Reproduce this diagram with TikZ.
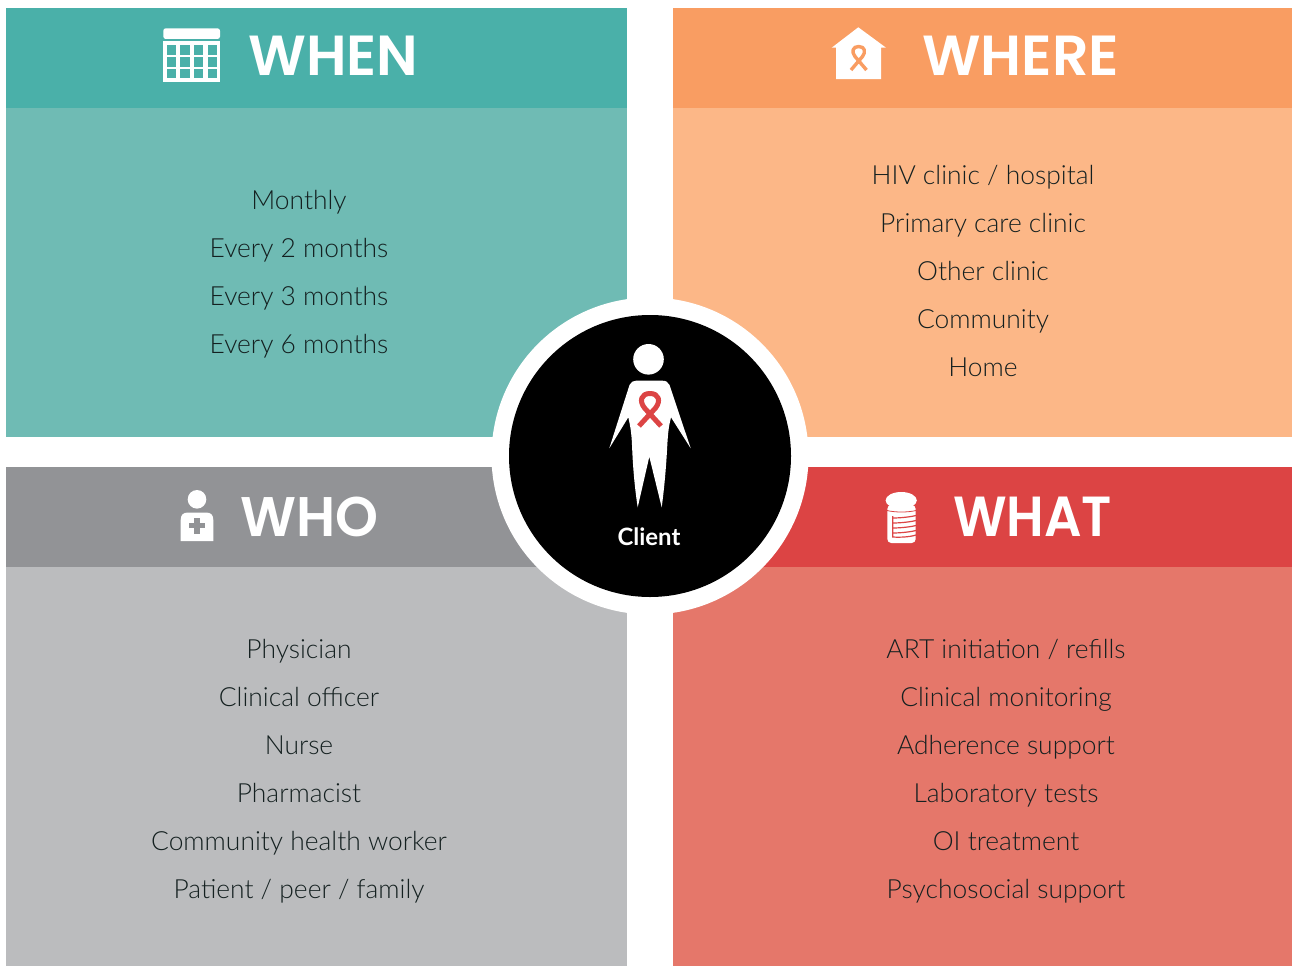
\documentclass[tikz,border=0pt]{standalone}
\usepackage{fontspec}
\usepackage{graphicx}
\setmainfont{Lato Light}
\newfontfamily\headfont{Poppins SemiBold}
\newfontfamily\clientfont{Lato Bold}
\definecolor{tealD}{HTML}{4AB0A9}
\definecolor{tealL}{HTML}{6FBBB4}
\definecolor{orangeD}{HTML}{F99D62}
\definecolor{orangeL}{HTML}{FCB787}
\definecolor{grayD}{HTML}{929396}
\definecolor{grayL}{HTML}{BBBCBE}
\definecolor{redD}{HTML}{DC4444}
\definecolor{redL}{HTML}{E5776A}
\definecolor{ink}{HTML}{142020}
\tikzset{
  item/.style={anchor=base,inner sep=0pt,text=ink,font=\fontsize{26.4}{30}\selectfont},
  head/.style={anchor=base west,inner sep=0pt,text=white,font=\headfont\fontsize{55}{60}\selectfont},
  ribbonline/.style={line width=#1,line cap=butt,line join=round},
}
\begin{document}
\begin{tikzpicture}[x=1pt,y=-1pt]
\useasboundingbox (0,0) rectangle (1292,966);
\fill[white] (0,0) rectangle (1292,966);
% panels
\fill[tealL] (6,108) rectangle (627,437);
\fill[tealD] (6,8) rectangle (627,108);
\fill[orangeL] (673,108) rectangle (1292,437);
\fill[orangeD] (673,8) rectangle (1292,108);
\fill[grayL] (6,567) rectangle (627,966);
\fill[grayD] (6,467) rectangle (627,567);
\fill[redL] (673,567) rectangle (1292,966);
\fill[redD] (673,467) rectangle (1292,567);
% centre disc
\fill[white] (650,456) circle[radius=158.5];
\fill[black] (650,456) circle[radius=141];
% person
\fill[white] (648.5,359.3) circle[radius=15.3];
\fill[white] (636,380.7) -- (662.5,380.7) .. controls (666,380.7) and (668,382) .. (669.5,385)
  -- (690.7,448.3) -- (671,417.3) .. controls (669,425) and (668,432) .. (667.3,445)
  .. controls (666,470) and (664,490) .. (661.7,507.3)
  -- (649.3,456.7) -- (637.7,507.3)
  .. controls (635,490) and (633,470) .. (632,445)
  .. controls (631.5,432) and (630,425) .. (628.3,417.3)
  -- (609.3,448.3) -- (629.5,385) .. controls (631,382) and (633,380.7) .. (636,380.7) -- cycle;
\draw[redD,ribbonline=5pt] (639,426) -- (655.5,408) .. controls (661,401) and (659,393.5) .. (650,393.5)
  .. controls (641,393.5) and (639,401) .. (644.5,408) -- (661,426);
\node[anchor=base,inner sep=0pt,text=white,font=\clientfont\fontsize{23.9}{26}\selectfont] (client) at (649,545) {Client};
% WHEN
\node[head] (whenT) at (248,75) {\resizebox{170pt}{39.5pt}{WHEN}};
\fill[white,rounded corners=2.5pt] (163.3,39) -- (163.3,28.3) -- (220,28.3) -- (220,39) -- cycle;
\fill[white] (163.3,40.7) rectangle (220,82.3);
\foreach \xa/\xb in {166.7/176,180.3/189.7,194/203.3,207.7/217.3}
  \foreach \ya/\yb in {45.3/55,57.3/66.7,69.3/78.3}
    \fill[tealD] (\xa,\ya) rectangle (\xb,\yb);
% WHERE
\node[head] (whereT) at (922,75) {\resizebox{197pt}{39.5pt}{WHERE}};
\fill[white] (858.3,27.3) -- (886,47.7) -- (881,47.7) -- (881,79) -- (836,79) -- (836,47.7) -- (831.7,47.7) -- cycle;
\draw[orangeD,ribbonline=3.4pt] (851,70) -- (862.5,56.5) .. controls (866,52) and (865,46.5) .. (858.7,46.5)
  .. controls (852.4,46.5) and (851.4,52) .. (855,56.5) -- (866.5,70);
% WHO
\node[head] (whoT) at (240,536) {\resizebox{138pt}{39.5pt}{WHO}};
\fill[white] (197,499.3) circle[radius=9.3];
\fill[white] (180.7,541) -- (180.7,520) .. controls (180.7,515) and (183,512.5) .. (188,512.5)
  -- (206,512.5) .. controls (211,512.5) and (213.3,515) .. (213.3,520) -- (213.3,541) -- cycle;
\fill[grayD] (194.4,518) rectangle (199.6,533.5);
\fill[grayD] (189.3,523.1) rectangle (204.7,528.3);
% WHAT
\node[head] (whatT) at (953,536) {\resizebox{159pt}{39.5pt}{WHAT}};
\fill[white] (901.2,500.4) ellipse[x radius=15.6,y radius=8.4];
\fill[white,rounded corners=4pt] (887.3,505) rectangle (915.7,543);
\draw[redD,line width=0.8pt] (887,510.5) .. controls (895,512.5) and (908,512.5) .. (916,510.5);
\foreach \y in {517,522,527,532}
  \draw[redD,line width=1.2pt] (892.7,\y+1) .. controls (900,\y+1) and (910,\y) .. (916,\y-1.5);
\draw[redD,line width=1.2pt] (892.7,516) -- (892.7,537) .. controls (900,537.5) and (910,537) .. (916,535);
% lists
\node[item] (w1) at (299,209.5) {Monthly};
\node[item] (w2) at (299,257.5) {Every 2 months};
\node[item] (w3) at (299,305.5) {Every 3 months};
\node[item] (w4) at (299,353.5) {Every 6 months};
\node[item] (p1) at (983,184.5) {HIV clinic / hospital};
\node[item] (p2) at (983,232.5) {Primary care clinic};
\node[item] (p3) at (983,280.5) {Other clinic};
\node[item] (p4) at (983,328.5) {Community};
\node[item] (p5) at (983,376.5) {Home};
\node[item] (o1) at (299,658.5) {Physician};
\node[item] (o2) at (299,706.5) {Clinical officer};
\node[item] (o3) at (299,754.5) {Nurse};
\node[item] (o4) at (299,802.5) {Pharmacist};
\node[item] (o5) at (299,850.5) {Community health worker};
\node[item] (o6) at (299,898.5) {Patient / peer / family};
\node[item] (a1) at (1006,658.5) {ART initiation / refills};
\node[item] (a2) at (1006,706.5) {Clinical monitoring};
\node[item] (a3) at (1006,754.5) {Adherence support};
\node[item] (a4) at (1006,802.5) {Laboratory tests};
\node[item] (a5) at (1006,850.5) {OI treatment};
\node[item] (a6) at (1006,898.5) {Psychosocial support};
\end{tikzpicture}
\end{document}
